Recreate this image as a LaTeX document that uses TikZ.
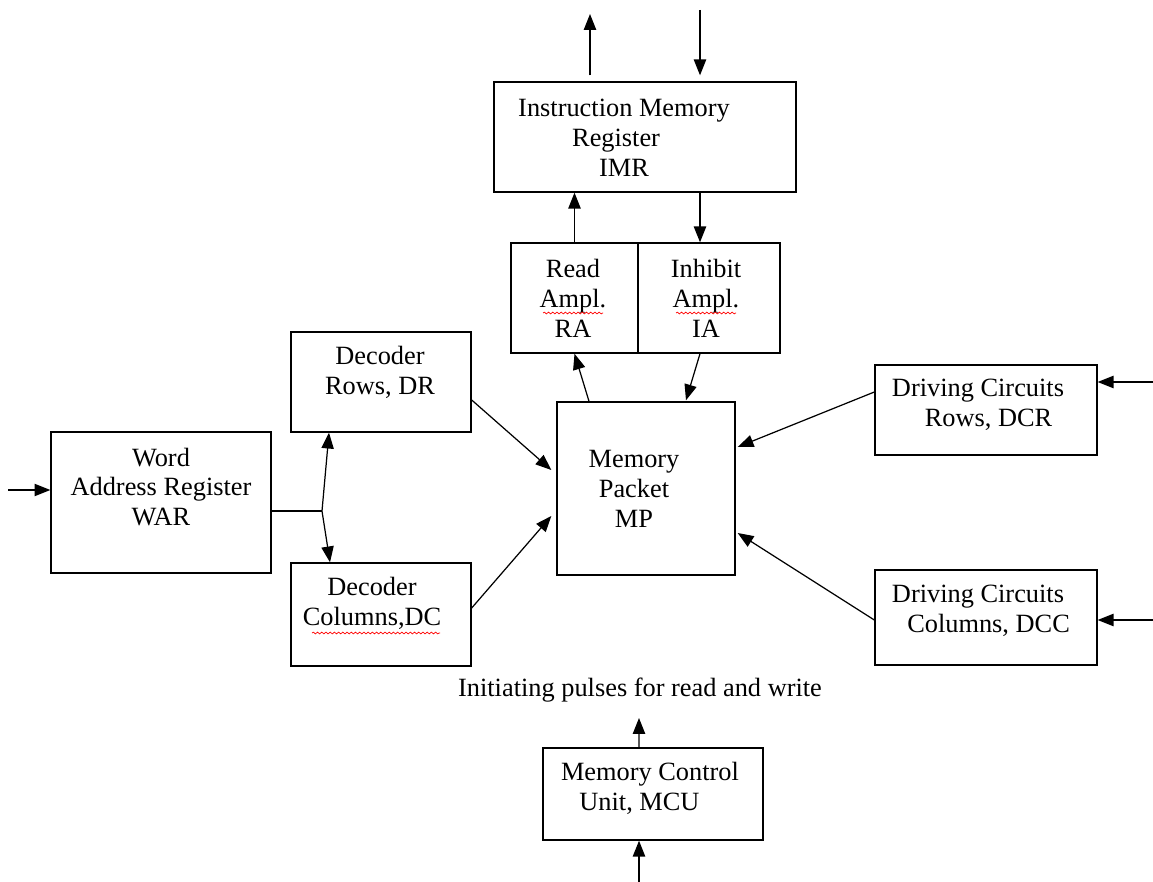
\documentclass[tikz,border=0pt]{standalone}
\usepackage{fontspec}
\setmainfont{Liberation Serif}
\usetikzlibrary{arrows.meta,decorations.pathmorphing}

\tikzset{
  blk/.style={draw, line width=0.8pt, inner sep=0pt},
  txt/.style={align=center, inner sep=0pt, font=\fontsize{15}{17}\selectfont},
  arr/.style={line width=0.7pt, -{Triangle[width=7pt,length=9pt]}},
  squig/.style={red, line width=0.4pt, decorate, decoration={snake, amplitude=0.5pt, segment length=2.4pt}}
}

\begin{document}
\begin{tikzpicture}[x=0.02cm, y=-0.02cm]
\useasboundingbox (0,0) rectangle (1153,882);

% boxes
\node[blk, minimum width=6.04cm, minimum height=2.2cm] (imr) at (645,137) {};
\node[blk, minimum width=2.54cm, minimum height=2.2cm] (ra) at (574.5,298) {};
\node[blk, minimum width=2.84cm, minimum height=2.2cm] (ia) at (709,298) {};
\node[blk, minimum width=3.56cm, minimum height=3.46cm] (mp) at (646,488.5) {};
\node[blk, minimum width=3.6cm, minimum height=2.0cm] (dr) at (381,382) {};
\node[blk, minimum width=3.6cm, minimum height=2.06cm] (dc) at (381,614.5) {};
\node[blk, minimum width=4.4cm, minimum height=2.82cm] (war) at (161,502.5) {};
\node[blk, minimum width=4.44cm, minimum height=1.8cm] (dcr) at (986,410) {};
\node[blk, minimum width=4.44cm, minimum height=1.9cm] (dcc) at (986,617.5) {};
\node[blk, minimum width=4.4cm, minimum height=1.84cm] (mcu) at (653,794) {};

% texts
\node[txt] (imrT) at (624,138) {Instruction Memory\\\hspace*{-0.6em}Register\\IMR};
\node[txt] (raT) at (573,298) {Read\\Ampl.\\RA};
\node[txt] (iaT) at (706,298) {Inhibit\\Ampl.\\IA};
\node[txt] (mpT) at (634,489) {Memory\\Packet\\MP};
\node[txt] (drT) at (380,372) {Decoder\\Rows, DR};
\node[txt] (dcT) at (372,603) {Decoder\\Columns,DC};
\node[txt] (warT) at (161,487) {Word\\Address Register\\WAR};
\node[txt] (dcrT) at (978,405) {Driving Circuits\\\hspace*{0.8em}Rows, DCR};
\node[txt] (dccT) at (978,611) {Driving Circuits\\\hspace*{0.8em}Columns, DCC};
\node[txt] (mcuT) at (650,788) {Memory Control\\\hspace*{-0.8em}Unit, MCU};
\node[txt] (pulT) at (640,690) {Initiating pulses for read and write};

% spelling marks
\draw[squig] (543,313) -- (603,313);
\draw[squig] (676,313) -- (736,313);
\draw[squig] (312,633) -- (440,633);

% free ends
\coordinate (imrOut) at (590,14);
\coordinate (imrIn) at (700,10);
\coordinate (warIn) at (8,490);
\coordinate (dcrIn) at (1153,382);
\coordinate (dccIn) at (1153,620);
\coordinate (mcuOut) at (639,718);
\coordinate (mcuIn) at (639,882);
\coordinate (jn) at (322,511);

% connectors
\draw[arr] ([yshift=0.12cm]imrOut |- imr.north) -- (imrOut);
\draw[arr] (imrIn) -- ([yshift=0.12cm]imrIn |- imr.north);
\draw[arr] (ra.north) -- (ra.north |- imr.south);
\draw[arr] ([xshift=-0.18cm]ia.north |- imr.south) -- ([xshift=-0.18cm]ia.north);
\draw[arr] ([xshift=-1.14cm]mp.north) -- (ra.south);
\draw[arr] ([xshift=-0.18cm]ia.south) -- ([xshift=0.8cm,yshift=0.02cm]mp.north);
\draw[arr] ([yshift=-0.36cm]dr.east) -- ([xshift=-0.1cm,yshift=0.37cm]mp.west);
\draw[arr] ([yshift=0.13cm]dc.east) -- ([xshift=-0.1cm,yshift=-0.55cm]mp.west);
\draw[arr] ([yshift=0.36cm]dcr.west) -- ([xshift=0.04cm,yshift=0.83cm]mp.east);
\draw[arr] ([yshift=-0.05cm]dcc.west) -- ([xshift=0.04cm,yshift=-0.89cm]mp.east);
\draw[arr] (dcrIn) -- (dcrIn -| dcr.east);
\draw[arr] (dccIn) -- (dccIn -| dcc.east);
\draw[arr] (warIn) -- (warIn -| war.west);
\draw[line width=0.7pt] (jn -| war.east) -- (jn);
\draw[arr] (jn) -- ([xshift=-1.04cm]dr.south);
\draw[arr] (jn) -- ([xshift=-1.02cm]dc.north);
\draw[arr] ([xshift=-0.28cm]mcu.north) -- (mcuOut);
\draw[arr] (mcuIn) -- (mcuIn |- mcu.south);

\end{tikzpicture}
\end{document}
